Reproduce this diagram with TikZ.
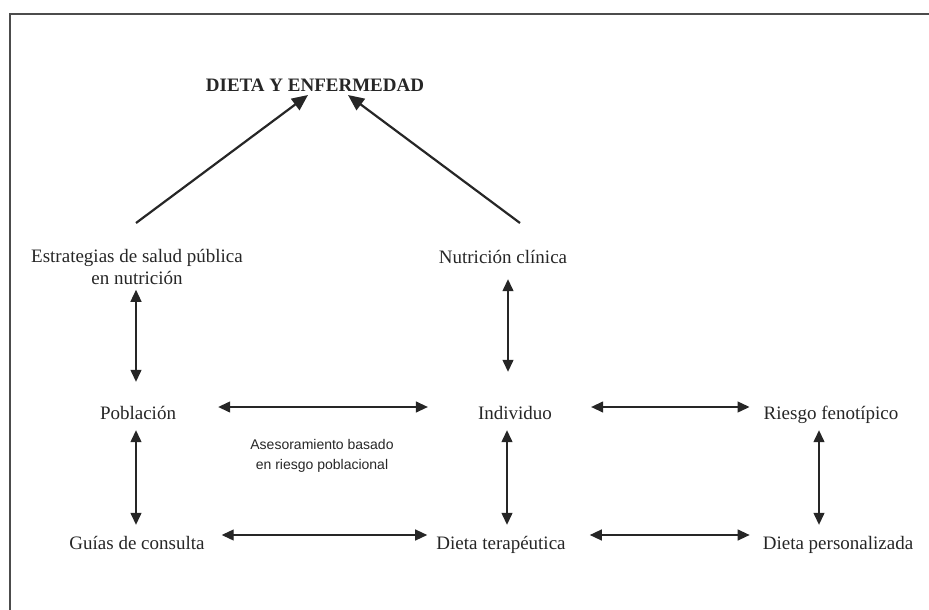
\documentclass[tikz,border=0pt]{standalone}
\usepackage{fontspec}
\setmainfont{Liberation Serif}
\newfontfamily\labelfont{Liberation Sans}
\usetikzlibrary{arrows.meta}
\begin{document}
\begin{tikzpicture}[x=1pt,y=-1pt,
    box/.style={inner sep=0pt,anchor=base,font=\fontsize{19}{22}\selectfont,text=black!85},
    line/.style={text height=13pt,text depth=4pt},
    twoway/.style={<->,>={Triangle[length=12pt,width=11pt]},line width=1.3pt,draw=black!85},
    oneway/.style={->,>={Triangle[length=16pt,width=14pt]},line width=2.2pt,draw=black!85}]
  \useasboundingbox (0,0) rectangle (929,610);
  \draw[line width=2pt,black!70] (10,610) -- (10,14) -- (929,14);
  \node[box,font=\bfseries\fontsize{19}{22}\selectfont] (tit) at (315,92) {DIETA Y ENFERMEDAD};
  \node[box,anchor=north,align=center] (est) at (137,249) {Estrategias de salud pública\\en nutrición};
  \node[box,line] (nut) at (503,263) {Nutrición clínica};
  \node[box,line] (pob) at (138,419) {Población};
  \node[box,line] (ind) at (515,419) {Individuo};
  \node[box,line] (rie) at (831,419) {Riesgo fenotípico};
  \node[box,line] (gui) at (137,549) {Guías de consulta};
  \node[box,line] (ter) at (501,549) {Dieta terapéutica};
  \node[box,line] (per) at (838,549) {Dieta personalizada};
  \node[inner sep=0pt,align=center,font=\labelfont\fontsize{14}{20}\selectfont,text=black!85]
    (ase) at (322,456) {Asesoramiento basado\\en riesgo poblacional};
  \coordinate (c1) at (136,223);
  \coordinate (c2) at (520,223);
  % hacia el titulo
  \begin{scope}[oneway]
    \draw (c1) -- ([xshift=-7pt,yshift=-3pt]tit.base);
    \draw (c2) -- ([xshift=33pt,yshift=-3pt]tit.base);
  \end{scope}
  % verticales
  \begin{scope}[twoway]
    \draw[shorten <=5pt,shorten >=24pt] ([xshift=-1pt]est.south) -- ([xshift=-1pt]est.south |- pob.north);
    \draw[shorten <=12pt,shorten >=34pt] ([xshift=5pt]nut.south) -- ([xshift=5pt]nut.south |- ind.north);
    \draw[shorten <=7pt,shorten >=11pt] ([xshift=-2pt]pob.south) -- ([xshift=-2pt]pob.south |- gui.north);
    \draw[shorten <=7pt,shorten >=11pt] ([xshift=-8pt]ind.south) -- ([xshift=-8pt]ind.south |- ter.north);
    \draw[shorten <=7pt,shorten >=11pt] ([xshift=-12pt]rie.south) -- ([xshift=-12pt]rie.south |- per.north);
  \end{scope}
  % horizontales
  \begin{scope}[twoway]
    \draw[shorten <=42pt,shorten >=50pt] ([yshift=12pt]pob.base east) -- ([yshift=12pt]ind.base west);
    \draw[shorten <=39pt,shorten >=14pt] ([yshift=12pt]ind.base east) -- ([yshift=12pt]rie.base west);
    \draw[shorten <=17pt,shorten >=9pt] ([yshift=14pt]gui.base east) -- ([yshift=14pt]ter.base west);
    \draw[shorten <=24pt,shorten >=13pt] ([yshift=14pt]ter.base east) -- ([yshift=14pt]per.base west);
  \end{scope}
\end{tikzpicture}
\end{document}
